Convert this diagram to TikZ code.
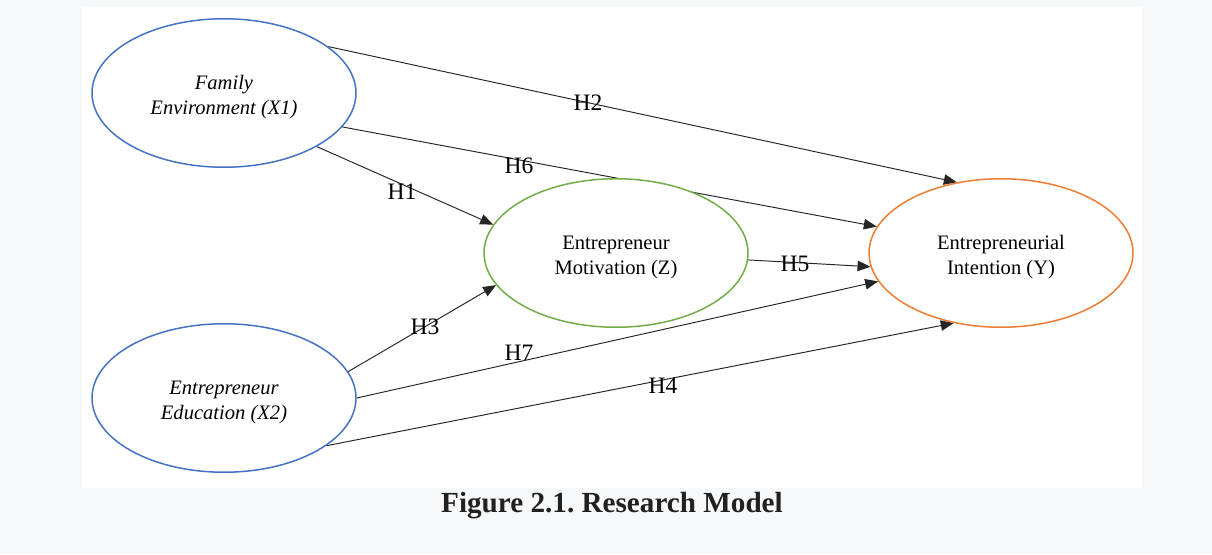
\documentclass[tikz,border=0pt]{standalone}
\usepackage{fontspec}
\setmainfont{Liberation Serif}
\usetikzlibrary{arrows.meta,shapes.geometric}

\definecolor{panelgray}{HTML}{F7F8FA}
\definecolor{famblue}{HTML}{4472C4}
\definecolor{motgreen}{HTML}{70AD47}
\definecolor{intorange}{HTML}{ED7D31}

\pgfdeclarelayer{panel}
\pgfdeclarelayer{edges}
\pgfsetlayers{panel,edges,main}

\newcommand{\lowstrut}{\rule{0pt}{0.46cm}}

\tikzset{
  construct/.style={ellipse, draw, line width=0.85pt, fill=white, inner sep=0pt,
    minimum width=5.28cm, minimum height=2.97cm, align=center,
    font=\fontsize{11.7}{14.2}\selectfont},
  hyp/.style={draw=black!85, line width=0.55pt, -{Triangle[length=0.26cm,width=0.21cm]}},
  hlabel/.style={font=\fontsize{13.4}{16}\selectfont, inner sep=0pt}
}

\begin{document}
\frenchspacing
\begin{tikzpicture}[x=0.02cm, y=-0.02cm]
  \useasboundingbox (0,0) rectangle (1212,554);
  % page and white panel
  \begin{pgfonlayer}{panel}
    \fill[panelgray] (0,0) rectangle (1212,554);
    \fill[white] (82,7) rectangle (1142,488);
  \end{pgfonlayer}

  % constructs
  \node[construct, draw=famblue] (famenv) at (224,93) {\lowstrut\itshape Family\\\itshape Environment (X1)};
  \node[construct, draw=famblue] (edu) at (224,398) {\lowstrut\itshape Entrepreneur\\\itshape Education (X2)};
  \node[construct, draw=motgreen] (motiv) at (616,253) {\lowstrut Entrepreneur\\Motivation (Z)};
  \node[construct, draw=intorange] (intent) at (1001,253) {\lowstrut Entrepreneurial\\Intention (Y)};

  % hypotheses
  \begin{pgfonlayer}{edges}
    \draw[hyp] (famenv.24.3) -- (intent.122.6);
    \draw[hyp] (famenv.-16.7) -- (intent.168.1);
    \draw[hyp] (famenv.-30.6) -- (motiv.167.2);
    \draw[hyp] (edu.12.9) -- (motiv.195.4);
    \draw[hyp] (edu.-0.9) -- (intent.193.7);
    \draw[hyp] (edu.-25.2) -- (intent.236.9);
    \draw[hyp] (motiv.-3.4) -- (intent.186.4);
  \end{pgfonlayer}

  \node[hlabel] (lhone) at (402,192) {H1};
  \node[hlabel] (lhtwo) at (588,103) {H2};
  \node[hlabel] (lhthree) at (425,327) {H3};
  \node[hlabel] (lhfour) at (663,386) {H4};
  \node[hlabel] (lhfive) at (795,264) {H5};
  \node[hlabel] (lhsix) at (519,166) {H6};
  \node[hlabel] (lhseven) at (519,353) {H7};

  % caption
  \node[font=\fontsize{16.6}{20}\selectfont\bfseries, text=black!87] (caption) at (612,506) {Figure 2.1. Research Model};
\end{tikzpicture}
\end{document}
